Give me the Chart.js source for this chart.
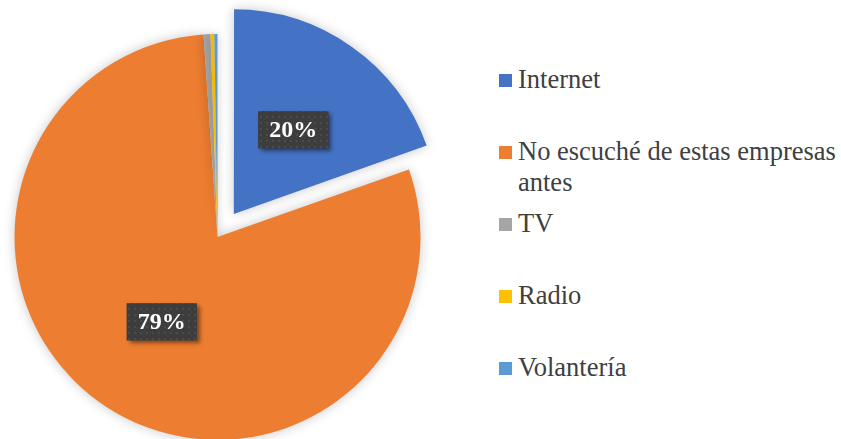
<!DOCTYPE html>
<html>
<head>
<meta charset="utf-8">
<script src="https://cdn.jsdelivr.net/npm/chart.js@4"></script>
<style>
  html, body { margin: 0; padding: 0; background: #fff; }
  #wrap { position: relative; width: 841px; height: 439px; overflow: hidden; }
  #pie-chart { position: absolute; left: 0; top: 0; }
  .legend-item {
    position: absolute; left: 499px; width: 342px;
    font: 26.5px/31px "Liberation Serif", "Times New Roman", serif; color: #404040;
  }
  .legend-item .swatch { position: absolute; left: 0; top: 10px; width: 13px; height: 13px; }
  .legend-item .text { margin-left: 19px; }
</style>
</head>
<body>
<div id="wrap">
  <canvas id="pie-chart" width="460" height="470"></canvas>
  <div id="legend"></div>
</div>
<script>
const labels = ["Internet", "No escuché de estas empresas antes", "TV", "Radio", "Volantería"];
const values = [19.6, 79.3, 0.55, 0.3, 0.25];
const colors = ["#4472C4", "#ED7D31", "#A5A5A5", "#FFC000", "#5B9BD5"];
const explode = [113, 0, 0, 0, 0];

// soft glow under the slices
const pieShadow = {
  id: "pieShadow",
  beforeDatasetsDraw(chart) {
    const c = chart.ctx;
    c.save();
    c.shadowColor = "rgba(0,0,0,0.22)";
    c.shadowBlur = 12;
  },
  afterDatasetsDraw(chart) {
    chart.ctx.restore();
  },
};

// dark dotted fill for the percentage boxes
function dotPattern(ctx) {
  const p = document.createElement("canvas");
  p.width = 6;
  p.height = 6;
  const pc = p.getContext("2d");
  pc.fillStyle = "#3d3d3d";
  pc.fillRect(0, 0, 6, 6);
  pc.fillStyle = "#4b4b4b";
  pc.fillRect(2, 2, 2, 2);
  return ctx.createPattern(p, "repeat");
}

const pctLabels = {
  id: "pctLabels",
  afterDatasetsDraw(chart) {
    const ctx = chart.ctx;
    const meta = chart.getDatasetMeta(0);
    const total = values.reduce((a, b) => a + b, 0);
    meta.data.forEach((arc, i) => {
      const pct = (values[i] / total) * 100;
      if (pct < 5) return;
      const { x, y, startAngle, endAngle, outerRadius } = arc.getProps(
        ["x", "y", "startAngle", "endAngle", "outerRadius"], true
      );
      // same shift the arc element uses for its offset
      const mid = (startAngle + endAngle) / 2;
      const off = (arc.options.offset || 0) / 4;
      const shift = off * (2 - Math.sin(Math.min(Math.PI, endAngle - startAngle)));
      const d = shift + outerRadius / 2;
      const cx = x + Math.cos(mid) * d;
      const cy = y + Math.sin(mid) * d;
      const text = Math.round(pct) + "%";

      ctx.save();
      ctx.font = 'bold 24px "Liberation Serif", "Times New Roman", serif';
      const w = ctx.measureText(text).width + 22;
      const h = 37;
      ctx.shadowColor = "rgba(0,0,0,0.45)";
      ctx.shadowBlur = 4;
      ctx.shadowOffsetX = 3;
      ctx.shadowOffsetY = 3;
      ctx.fillStyle = "#3d3d3d";
      ctx.fillRect(cx - w / 2, cy - h / 2, w, h);
      ctx.shadowColor = "transparent";
      ctx.fillStyle = dotPattern(ctx);
      ctx.fillRect(cx - w / 2, cy - h / 2, w, h);
      ctx.fillStyle = "#ffffff";
      ctx.textAlign = "center";
      ctx.textBaseline = "middle";
      ctx.fillText(text, cx, cy + 1);
      ctx.restore();
    });
  },
};

const pieChart = new Chart(document.getElementById("pie-chart").getContext("2d"), {
  type: "pie",
  data: {
    labels,
    datasets: [
      {
        data: values,
        backgroundColor: colors,
        borderWidth: 0,
        offset: explode,
      },
    ],
  },
  options: {
    responsive: false,
    animation: false,
    events: [],
    radius: 203,
    layout: { padding: { left: 0.5, top: 20, right: 25.5, bottom: 16 } },
    plugins: {
      legend: { display: false },
      tooltip: { enabled: false },
    },
  },
  plugins: [pieShadow, pctLabels],
});

// legend on the right, one row every 72px
const legend = document.getElementById("legend");
labels.forEach((name, i) => {
  const item = document.createElement("div");
  item.className = "legend-item";
  item.style.top = 63.5 + i * 72 + "px";
  item.innerHTML = `<span class="swatch" style="background:${colors[i]}"></span><div class="text">${name}</div>`;
  legend.appendChild(item);
});
</script>
</body>
</html>
